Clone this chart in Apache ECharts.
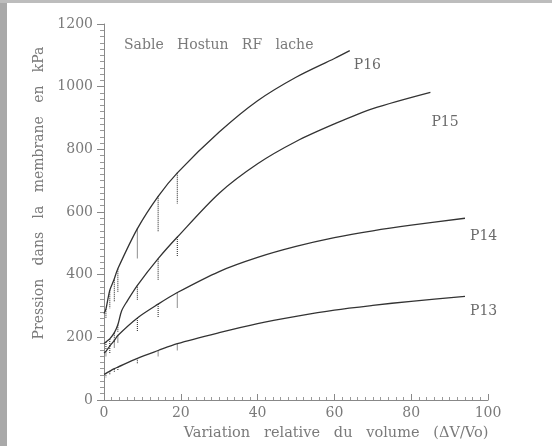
<!DOCTYPE html>
<html><head><meta charset="utf-8">
<script src="https://cdn.jsdelivr.net/npm/echarts@6/dist/echarts.min.js"></script>
<style>html,body{margin:0;padding:0;background:#fff}#c{width:552px;height:446px}</style>
</head><body><div id="c"></div>
<script>
// Curves: x = volume variation (%), y = pressure (kPa)
const p16X = [0, 0.5, 1.5, 2.6, 3.6, 8.7, 14.1, 19.1, 30, 40, 50, 60, 64];
const p16Y = [276, 290, 350, 384, 419, 547, 650, 725, 855, 955, 1030, 1090, 1115];
const p15X = [0, 0.5, 1.5, 2.7, 3.6, 4.6, 6, 8.7, 14.1, 19.1, 30, 40, 50, 60, 70, 85];
const p15Y = [180, 185, 195, 215, 240, 285, 315, 366, 451, 520, 660, 754, 825, 881, 930, 982];
const p14X = [0, 0.5, 1.5, 2.7, 3.6, 8.7, 14.1, 19.1, 30, 40, 50, 60, 70, 80, 94];
const p14Y = [150, 155, 172, 190, 206, 262, 306, 343, 410, 455, 490, 518, 540, 558, 580];
const p13X = [0, 0.5, 1.5, 2.7, 3.6, 8.7, 14.1, 19.1, 30, 40, 50, 60, 70, 80, 94];
const p13Y = [82, 85, 92, 100, 105, 133, 158, 180, 215, 244, 267, 287, 302, 315, 331];

// Relaxation drops (dotted verticals): x, top, bottom
const dropX = [0.5, 1.5, 2.7, 3.6, 8.7, 14.1, 19.1];
const p16DropTop = [290, 350, 384, 419, 547, 650, 725];
const p16DropBot = [262, 292, 313, 345, 451, 536, 627];
const p15DropTop = [185, 195, 215, 240, 366, 451, 520];
const p15DropBot = [160, 170, 185, 215, 319, 382, 457];
const p14DropTop = [155, 172, 190, 206, 262, 306, 343];
const p14DropBot = [140, 150, 165, 180, 218, 265, 292];
const p13DropTop = [85, 92, 100, 105, 133, 158, 180];
const p13DropBot = [72, 80, 90, 93, 117, 138, 159];

const curveNames = ['P16', 'P15', 'P14', 'P13'];
const xTicks = [0, 20, 40, 60, 80, 100];
const yTicks = [0, 200, 400, 600, 800, 1000, 1200];

function pairs(xs, ys) { return xs.map((x, i) => [x, ys[i]]); }
function drops(xs, top, bot) {
  const out = [];
  xs.forEach((x, i) => { out.push([x, top[i]], [x, bot[i]], [x, null]); });
  return out;
}

const curves = [pairs(p16X, p16Y), pairs(p15X, p15Y), pairs(p14X, p14Y), pairs(p13X, p13Y)];
const dropSets = [drops(dropX, p16DropTop, p16DropBot), drops(dropX, p15DropTop, p15DropBot),
                  drops(dropX, p14DropTop, p14DropBot), drops(dropX, p13DropTop, p13DropBot)];

const FONT = 'DejaVu Serif';
const TXT = '#7a7a7a';
const series = [];
curves.forEach((d, i) => {
  series.push({ type: 'line', name: curveNames[i], data: d, smooth: 0.3, symbol: 'none',
    lineStyle: { color: '#333', width: 1.3 }, z: 3 });
});
dropSets.forEach((d) => {
  series.push({ type: 'line', data: d, symbol: 'none', connectNulls: false,
    lineStyle: { color: '#444', width: 1.2, type: [1, 1] }, z: 2 });
});

const chart = echarts.init(document.getElementById('c'), null, { renderer: 'canvas' });
chart.setOption({
  backgroundColor: '#fff',
  animation: false,
  grid: { left: 104, right: 64, top: 24, bottom: 44 },
  xAxis: {
    type: 'value', min: 0, max: 100, interval: 20,
    axisLine: { show: true, onZero: false, lineStyle: { color: '#888', width: 1 } },
    axisTick: { show: true, inside: true, length: 6, lineStyle: { color: '#888' } },
    minorTick: { show: true, splitNumber: 10, length: 3, lineStyle: { color: '#999' } },
    splitLine: { show: false },
    axisLabel: { color: TXT, fontFamily: FONT, fontSize: 14, margin: 6,
      formatter: v => xTicks.includes(v) ? String(v) : '' },
    name: 'Variation   relative   du   volume   (ΔV/Vo)', nameLocation: 'middle', nameGap: 26,
    nameTextStyle: { color: TXT, fontFamily: FONT, fontSize: 14.5, padding: [0, 0, 0, 80] }
  },
  yAxis: {
    type: 'value', min: 0, max: 1200, interval: 200,
    axisLine: { show: true, onZero: false, lineStyle: { color: '#888', width: 1 } },
    axisTick: { show: true, inside: false, length: 7, lineStyle: { color: '#888' } },
    minorTick: { show: true, splitNumber: 10, length: 4, lineStyle: { color: '#999' } },
    splitLine: { show: false },
    axisLabel: { color: TXT, fontFamily: FONT, fontSize: 14, margin: 11,
      formatter: v => yTicks.includes(v) ? String(v) : '' },
    name: 'Pression   dans   la   membrane   en   kPa', nameLocation: 'middle', nameGap: 50,
    nameTextStyle: { color: TXT, fontFamily: FONT, fontSize: 14, padding: [0, 0, 0, 38] }
  },
  series: series,
  graphic: [
    { type: 'rect', left: 0, top: 0, shape: { width: 7, height: 446 }, style: { fill: '#a9a9a9' }, z: 10 },
    { type: 'rect', left: 0, top: 0, shape: { width: 552, height: 3 }, style: { fill: '#bdbdbd' }, z: 10 },
    { type: 'text', left: 124, top: 38, style: { text: 'Sable   Hostun   RF   lache', fill: TXT,
      font: '14px "DejaVu Serif"' }, z: 10 }
  ]
});

// Curve labels placed relative to each curve's end point
const labelOffsets = [[4, 8], [1, 23], [5, 11], [5, 8]];
const ends = curves.map(d => d[d.length - 1]);
const labelGraphics = ends.map((e, i) => {
  const p = chart.convertToPixel({ gridIndex: 0 }, e);
  return { type: 'text', x: p[0] + labelOffsets[i][0], y: p[1] + labelOffsets[i][1],
    style: { text: curveNames[i], fill: '#6a6a6a', font: '14px "DejaVu Serif"' }, z: 10 };
});
chart.setOption({ graphic: labelGraphics.map((g, i) => Object.assign({ id: 'lbl' + i }, g)) });
</script>
</body></html>
